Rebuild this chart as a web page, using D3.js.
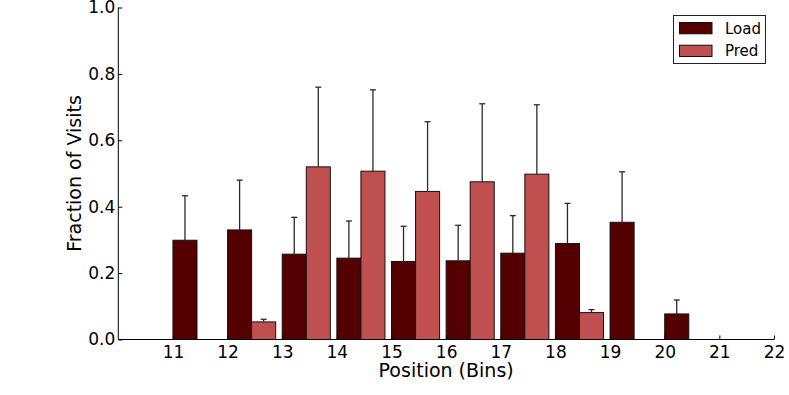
<!DOCTYPE html>
<html>
<head>
<meta charset="utf-8">
<script src="https://cdn.jsdelivr.net/npm/d3@7"></script>
<style>
  body { margin: 0; background: #fff; }
  svg { font-family: "DejaVu Sans", sans-serif; }
</style>
</head>
<body>
<div id="chart"></div>
<script>
// bins along the x axis
var bins = [11, 12, 13, 14, 15, 16, 17, 18, 19, 20];
var loadValues = [0.299, 0.330, 0.257, 0.245, 0.235, 0.237, 0.260, 0.289, 0.353, 0.077];
var loadErrors = [0.134, 0.150, 0.111, 0.112, 0.106, 0.107, 0.113, 0.121, 0.152, 0.042];
var predValues = [0, 0.053, 0.520, 0.507, 0.446, 0.475, 0.498, 0.081, 0, 0];
var predErrors = [0, 0.008, 0.240, 0.245, 0.210, 0.235, 0.209, 0.009, 0, 0];
var xTicks = [11, 12, 13, 14, 15, 16, 17, 18, 19, 20, 21, 22];
var yTicks = [0, 0.2, 0.4, 0.6, 0.8, 1.0];
var seriesNames = ["Load", "Pred"];

var width = 789, height = 395,
  margin = {top: 7.5, right: 15, bottom: 55.5, left: 118.3},
  colors = ['#550000', '#c05050'],
  barWidth = 0.44;

var svg = d3.select('#chart').append('svg')
  .attr('width', width)
  .attr('height', height);

var x = d3.scaleLinear().domain([10, 22]).range([margin.left, 774]);
var y = d3.scaleLinear().domain([0, 1]).range([height - margin.bottom, margin.top]);

var series = [
  {name: seriesNames[0], values: loadValues, errors: loadErrors, offset: 0, color: colors[0]},
  {name: seriesNames[1], values: predValues, errors: predErrors, offset: barWidth, color: colors[1]}
];

// Draw bars
series.forEach(function (s) {
  var rows = bins.map(function (b, i) {
    return {bin: b, v: s.values[i], e: s.errors[i]};
  }).filter(function (d) { return d.v > 0; });

  var g = svg.append('g').attr('class', 'series');

  g.selectAll('rect')
    .data(rows)
    .join('rect')
    .attr('x', d => x(d.bin + s.offset))
    .attr('y', d => y(d.v))
    .attr('width', d => x(d.bin + s.offset + barWidth) - x(d.bin + s.offset))
    .attr('height', d => y(0) - y(d.v))
    .attr('fill', s.color)
    .attr('stroke', '#111')
    .attr('stroke-width', 1);

  // upper error bars
  g.selectAll('line.err')
    .data(rows)
    .join('line')
    .attr('class', 'err')
    .attr('x1', d => x(d.bin + s.offset + barWidth / 2))
    .attr('x2', d => x(d.bin + s.offset + barWidth / 2))
    .attr('y1', d => y(d.v))
    .attr('y2', d => y(d.v + d.e))
    .attr('stroke', '#2a2a2a')
    .attr('stroke-width', 1.3);

  g.selectAll('line.cap')
    .data(rows)
    .join('line')
    .attr('class', 'cap')
    .attr('x1', d => x(d.bin + s.offset + barWidth / 2) - 3)
    .attr('x2', d => x(d.bin + s.offset + barWidth / 2) + 3)
    .attr('y1', d => y(d.v + d.e))
    .attr('y2', d => y(d.v + d.e))
    .attr('stroke', '#2a2a2a')
    .attr('stroke-width', 1.3);
});

// Axes with inward ticks
var xAxis = d3.axisBottom(x)
  .tickValues(xTicks)
  .tickSize(-4)
  .tickPadding(6)
  .tickFormat(d3.format('d'));

var yAxis = d3.axisLeft(y)
  .tickValues(yTicks)
  .tickSize(-4)
  .tickPadding(3)
  .tickFormat(d3.format('.1f'));

svg.append('g')
  .attr('transform', 'translate(0,' + y(0) + ')')
  .call(xAxis)
  .call(g => g.select('.domain').attr('d', 'M' + x(10) + ',0H' + x(22)).attr('stroke', '#000'))
  .call(g => g.selectAll('.tick line').attr('stroke', '#000'))
  .call(g => g.selectAll('text').attr('font-size', 17).attr('fill', '#000')
    .attr('font-family', '"DejaVu Sans", sans-serif'));

svg.append('g')
  .attr('transform', 'translate(' + x(10) + ',0)')
  .call(yAxis)
  .call(g => g.select('.domain').attr('d', 'M0,' + y(0) + 'V' + y(1)).attr('stroke', '#000'))
  .call(g => g.selectAll('.tick line').attr('stroke', '#000'))
  .call(g => g.selectAll('text').attr('font-size', 17).attr('fill', '#000')
    .attr('font-family', '"DejaVu Sans", sans-serif'));

// Axis labels
svg.append('text')
  .attr('x', (x(10) + x(22)) / 2)
  .attr('y', 377)
  .attr('text-anchor', 'middle')
  .style('font-size', '19px')
  .text('Position (Bins)');

svg.append('text')
  .attr('transform', 'translate(81,' + (y(0) + y(1)) / 2 + ') rotate(-90)')
  .attr('text-anchor', 'middle')
  .style('font-size', '19px')
  .text('Fraction of Visits');

// Legend
var legend = svg.append('g').attr('transform', 'translate(673.5,15.5)');
legend.append('rect')
  .attr('width', 92)
  .attr('height', 48)
  .attr('fill', '#fff')
  .attr('stroke', '#222')
  .attr('stroke-width', 1);

var item = legend.selectAll('g.item')
  .data(series)
  .join('g')
  .attr('class', 'item')
  .attr('transform', (d, i) => 'translate(6,' + (7 + i * 22.7) + ')');

item.append('rect')
  .attr('width', 32.5)
  .attr('height', 11.3)
  .attr('fill', d => d.color)
  .attr('stroke', '#111')
  .attr('stroke-width', 1);

item.append('text')
  .attr('x', 45.5)
  .attr('y', 11)
  .style('font-size', '15px')
  .text(d => d.name);
</script>
</body>
</html>
